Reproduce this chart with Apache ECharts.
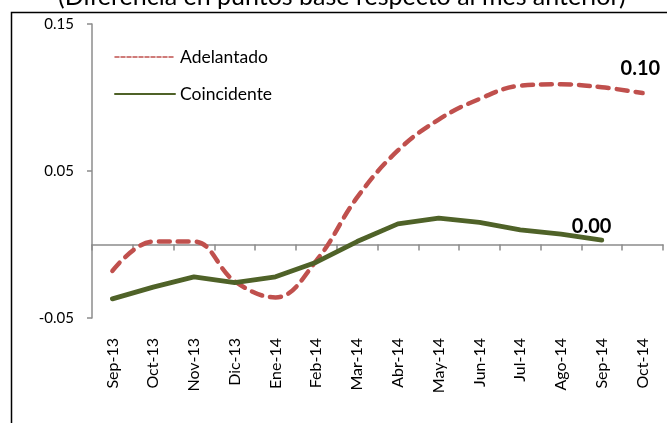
<!DOCTYPE html>
<html>
<head>
<meta charset="utf-8">
<script src="https://cdn.jsdelivr.net/npm/echarts@6/dist/echarts.min.js"></script>
<style>
  html, body { margin: 0; padding: 0; background: #fff; }
  #chart { width: 667px; height: 423px; }
</style>
</head>
<body>
<div id="chart"></div>
<script>
// meses
const categorias = ["Sep-13", "Oct-13", "Nov-13", "Dic-13", "Ene-14", "Feb-14", "Mar-14",
  "Abr-14", "May-14", "Jun-14", "Jul-14", "Ago-14", "Sep-14", "Oct-14"];
const adelantado = [-0.018, 0.002, 0.002, -0.025, -0.036, -0.011, 0.032,
  0.064, 0.085, 0.099, 0.108, 0.109, 0.107, 0.103];
const coincidente = [-0.037, -0.029, -0.022, -0.026, -0.022, -0.012, 0.002,
  0.014, 0.018, 0.015, 0.010, 0.007, 0.003, null];
const yTicks = [-0.05, 0.05, 0.15];

const font = "Lato, 'Open Sans', sans-serif";
const chart = echarts.init(document.getElementById("chart"));

chart.setOption({
  animation: false,
  textStyle: { fontFamily: font },
  title: {
    text: "(Diferencia en puntos base respecto al mes anterior)",
    left: 53,
    top: -21,
    textStyle: { fontSize: 25, fontWeight: "normal", color: "#000", fontFamily: font }
  },
  graphic: [
    {
      type: "rect",
      shape: { x: 11.5, y: 12.5, width: 700, height: 500 },
      style: { fill: "none", stroke: "#000", lineWidth: 1.5 },
      silent: true
    }
  ],
  grid: { left: 92, right: 4, top: 24, bottom: 105 },
  legend: {
    orient: "vertical",
    left: 109,
    top: 43,
    itemWidth: 60,
    itemHeight: 14,
    itemGap: 19,
    itemStyle: { opacity: 0 },
    textStyle: { fontSize: 17.5, color: "#000", fontFamily: font },
    data: [
      { name: "Adelantado", lineStyle: { width: 1.5, type: [4, 2] } },
      { name: "Coincidente", lineStyle: { width: 2 } }
    ]
  },
  xAxis: [
    {
      type: "category",
      data: categorias,
      boundaryGap: true,
      axisLine: { show: false, onZero: false },
      axisTick: { show: false },
      axisLabel: {
        rotate: 90,
        margin: 20,
        fontSize: 16,
        color: "#000",
        interval: 0
      }
    },
    {
      type: "category",
      position: "bottom",
      data: categorias,
      boundaryGap: true,
      axisLine: { show: true, onZero: true, lineStyle: { color: "#8c8c8c", width: 1.5 } },
      axisTick: { show: true, length: 6, interval: 0, lineStyle: { color: "#8c8c8c", width: 1.5 } },
      axisLabel: { show: false }
    }
  ],
  yAxis: {
    type: "value",
    min: -0.05,
    max: 0.15,
    interval: 0.1,
    axisLine: { show: true, lineStyle: { color: "#8c8c8c", width: 1.5 } },
    axisTick: { show: true, length: 5, lineStyle: { color: "#8c8c8c", width: 1.5 } },
    splitLine: { show: false },
    axisLabel: {
      fontSize: 15,
      color: "#000",
      margin: 18,
      customValues: yTicks,
      formatter: v => v.toFixed(2)
    }
  },
  series: [
    {
      name: "Adelantado",
      type: "line",
      xAxisIndex: 0,
      data: adelantado,
      smooth: 0.4,
      showSymbol: false,
      symbol: "none",
      color: "#C0504D",
      lineStyle: { color: "#C0504D", width: 4.5, type: [11, 8], cap: "round" },
      endLabel: {
        show: true,
        formatter: p => p.value.toFixed(2),
        fontSize: 20,
        fontWeight: "bold",
        color: "#000",
        offset: [-30, -25]
      }
    },
    {
      name: "Coincidente",
      type: "line",
      xAxisIndex: 0,
      data: coincidente,
      showSymbol: false,
      symbol: "none",
      color: "#4F6228",
      lineStyle: { color: "#4F6228", width: 4.8, cap: "round" },
      endLabel: {
        show: true,
        formatter: p => p.value.toFixed(2),
        fontSize: 20,
        fontWeight: "bold",
        color: "#000",
        offset: [-38, -14]
      }
    }
  ]
});
</script>
</body>
</html>
